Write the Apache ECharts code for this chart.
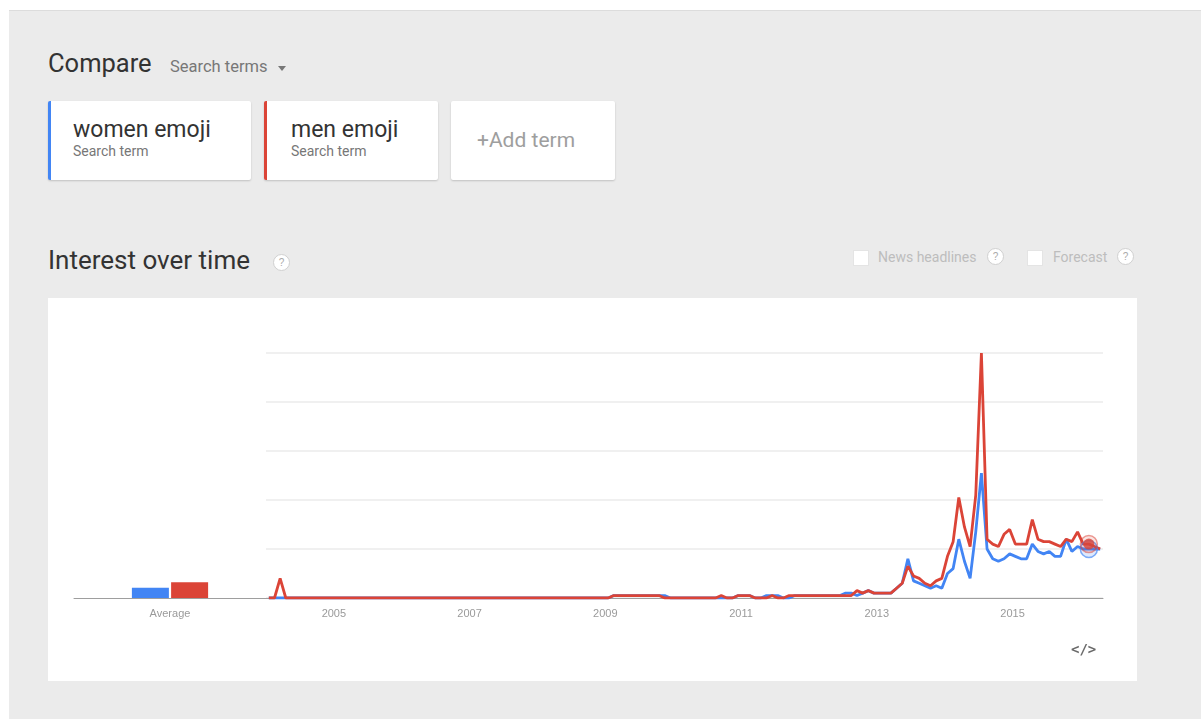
<!DOCTYPE html>
<html>
<head>
<meta charset="utf-8">
<script src="https://cdn.jsdelivr.net/npm/echarts@6/dist/echarts.min.js"></script>
<style>
  html, body { margin: 0; padding: 0; background: #ffffff; width: 1201px; height: 719px; overflow: hidden; font-family: Roboto, Arial, sans-serif; }
  #page { position: absolute; left: 9px; top: 10px; width: 1192px; height: 709px; background: #ebebeb; border-top: 1px solid #dcdcdc; }
  .abs { position: absolute; white-space: nowrap; }
  .card { position: absolute; background: #fff; border-radius: 2px; box-shadow: 0 1px 2px rgba(0,0,0,0.18); }
  .qm { position: absolute; width: 15px; height: 15px; border: 1.5px solid #d0d0d0; border-radius: 50%; background: #fff; color: #aaa; font-size: 10px; line-height: 15px; text-align: center; font-family: Arial, sans-serif; }
  .cb { position: absolute; width: 14px; height: 14px; background: #fff; border: 1px solid #e4e4e4; }
  #panel { position: absolute; left: 48px; top: 298px; width: 1089px; height: 383px; background: #fff; }
  #chart { position: absolute; left: 0; top: 0; width: 1089px; height: 383px; }
</style>
</head>
<body>
<div id="page"></div>
<div class="abs" style="left:48px;top:48px;font-size:25.5px;color:#333;">Compare</div>
<div class="abs" style="left:170px;top:57px;font-size:16.5px;color:#777;">Search terms</div>
<div class="abs" style="left:278px;top:66px;width:0;height:0;border-left:4px solid transparent;border-right:4px solid transparent;border-top:5px solid #777;"></div>

<div class="card" style="left:48px;top:101px;width:203px;height:79px;border-left:3px solid #4285f4;box-sizing:border-box;"></div>
<div class="abs" style="left:73px;top:116px;font-size:23px;color:#333;">women emoji</div>
<div class="abs" style="left:73px;top:143px;font-size:14px;color:#777;">Search term</div>

<div class="card" style="left:264px;top:101px;width:174px;height:79px;border-left:3px solid #db4437;box-sizing:border-box;"></div>
<div class="abs" style="left:291px;top:116px;font-size:23px;color:#333;">men emoji</div>
<div class="abs" style="left:291px;top:143px;font-size:14px;color:#777;">Search term</div>

<div class="card" style="left:451px;top:101px;width:164px;height:79px;"></div>
<div class="abs" style="left:477px;top:128px;font-size:21px;color:#9e9e9e;">+Add term</div>

<div class="abs" style="left:48px;top:245px;font-size:26px;color:#333;">Interest over time</div>
<div class="qm" style="left:273px;top:254px;">?</div>

<div class="cb" style="left:853px;top:250px;"></div>
<div class="abs" style="left:878px;top:249px;font-size:14px;color:#bdbdbd;">News headlines</div>
<div class="qm" style="left:987px;top:248px;">?</div>
<div class="cb" style="left:1027px;top:250px;"></div>
<div class="abs" style="left:1053px;top:249px;font-size:14px;color:#bdbdbd;">Forecast</div>
<div class="qm" style="left:1117px;top:248px;">?</div>

<div id="panel"><div id="chart"></div>
  <div class="abs" style="left:1023px;top:343px;font-size:14px;font-weight:bold;color:#6a6a6a;font-family:'DejaVu Sans Mono', monospace;">&lt;/&gt;</div>
</div>

<script>
// Monthly search interest, Jan 2004 .. Apr 2016 (148 months)
const startYear = 2004;
const womenEmoji = [
  0,0,0,0,0,0,0,0,0,0,0,0,            // 2004
  0,0,0,0,0,0,0,0,0,0,0,0,            // 2005
  0,0,0,0,0,0,0,0,0,0,0,0,            // 2006
  0,0,0,0,0,0,0,0,0,0,0,0,            // 2007
  0,0,0,0,0,0,0,0,0,0,0,0,            // 2008
  0,1,1,1,1,1,1,1,1,1,1,0,            // 2009
  0,0,0,0,0,0,0,0,0,0,0,1,            // 2010
  1,1,0,0,1,1,1,0,0,1,1,1,            // 2011
  1,1,1,1,1,1,2,2,1,2,3,2,            // 2012
  2,2,2,4,6,16,7,6,5,4,5,4,           // 2013
  10,12,24,15,8,27,51,20,16,15,16,18, // 2014
  17,16,16,22,19,18,19,17,17,24,19,21,// 2015
  20,20,20,20                          // 2016
];
const menEmoji = [
  0,0,8,0,0,0,0,0,0,0,0,0,            // 2004
  0,0,0,0,0,0,0,0,0,0,0,0,            // 2005
  0,0,0,0,0,0,0,0,0,0,0,0,            // 2006
  0,0,0,0,0,0,0,0,0,0,0,0,            // 2007
  0,0,0,0,0,0,0,0,0,0,0,0,            // 2008
  0,1,1,1,1,1,1,1,1,1,0,0,            // 2009
  0,0,0,0,0,0,0,0,1,0,0,1,            // 2010
  1,1,0,0,0,1,0,0,1,1,1,1,            // 2011
  1,1,1,1,1,1,1,1,3,2,3,2,            // 2012
  2,2,2,4,6,13,9,8,6,5,7,8,           // 2013
  17,23,41,29,21,42,100,24,22,21,26,28,// 2014
  22,22,22,32,24,23,23,22,21,24,23,27,// 2015
  22,22,21,20                          // 2016
];
const averageLabel = ['Average'];
const womenAverage = [4.2];
const menAverage = [6.4];
const highlightIndex = 145;
const yearTicks = [2005, 2007, 2009, 2011, 2013, 2015];

const BLUE = '#4285f4', RED = '#db4437';
function toPoints(arr) { return arr.map((v, i) => [startYear + (i + 0.5) / 12, v]); }

const chart = echarts.init(document.getElementById('chart'), null, { renderer: 'canvas' });
const labelStyle = { color: '#9a9a9a', fontSize: 11, fontFamily: 'Arial, sans-serif' };
chart.setOption({
  animation: false,
  grid: [
    { left: 26, width: 192, top: 55, bottom: 83 },
    { left: 218, right: 34, top: 55, bottom: 83 }
  ],
  xAxis: [
    { gridIndex: 0, type: 'category', data: averageLabel,
      axisLine: { lineStyle: { color: '#9e9e9e', width: 1 } }, axisTick: { show: false },
      axisLabel: Object.assign({ margin: 10 }, labelStyle) },
    { gridIndex: 1, type: 'value', min: startYear, max: 2016 + 4 / 12, interval: 1,
      splitLine: { show: false }, axisTick: { show: false },
      axisLine: { lineStyle: { color: '#9e9e9e', width: 1 } },
      axisLabel: Object.assign({ margin: 10, showMinLabel: false, showMaxLabel: false,
        formatter: v => yearTicks.indexOf(v) >= 0 ? String(v) : '' }, labelStyle) }
  ],
  yAxis: [
    { gridIndex: 0, type: 'value', min: 0, max: 100, interval: 20, show: false },
    { gridIndex: 1, type: 'value', min: 0, max: 100, interval: 20,
      axisLine: { show: false }, axisTick: { show: false }, axisLabel: { show: false },
      splitLine: { lineStyle: { color: '#ebebeb', width: 1.5 } } }
  ],
  series: [
    { type: 'bar', xAxisIndex: 0, yAxisIndex: 0, data: womenAverage, barWidth: 37, barGap: '6%',
      itemStyle: { color: BLUE } },
    { type: 'bar', xAxisIndex: 0, yAxisIndex: 0, data: menAverage, barWidth: 37,
      itemStyle: { color: RED } },
    { type: 'line', xAxisIndex: 1, yAxisIndex: 1, data: toPoints(womenEmoji), showSymbol: false,
      symbol: 'none', lineStyle: { color: BLUE, width: 2.8 }, z: 3 },
    { type: 'line', xAxisIndex: 1, yAxisIndex: 1, data: toPoints(menEmoji), showSymbol: false,
      symbol: 'none', lineStyle: { color: RED, width: 2.8 }, z: 4 },
    { type: 'scatter', xAxisIndex: 1, yAxisIndex: 1, z: 5, symbolSize: 17,
      data: [toPoints(womenEmoji)[highlightIndex]],
      itemStyle: { color: 'rgba(66,133,244,0.22)', borderColor: 'rgba(66,133,244,0.85)', borderWidth: 1.5 } },
    { type: 'scatter', xAxisIndex: 1, yAxisIndex: 1, z: 6, symbolSize: 17,
      data: [toPoints(menEmoji)[highlightIndex]],
      itemStyle: { color: 'rgba(219,68,55,0.18)', borderColor: 'rgba(219,68,55,0.65)', borderWidth: 1.5 } },
    { type: 'scatter', xAxisIndex: 1, yAxisIndex: 1, z: 7, symbolSize: 11,
      data: [toPoints(menEmoji)[highlightIndex]],
      itemStyle: { color: RED } }
  ]
});
</script>
</body>
</html>
